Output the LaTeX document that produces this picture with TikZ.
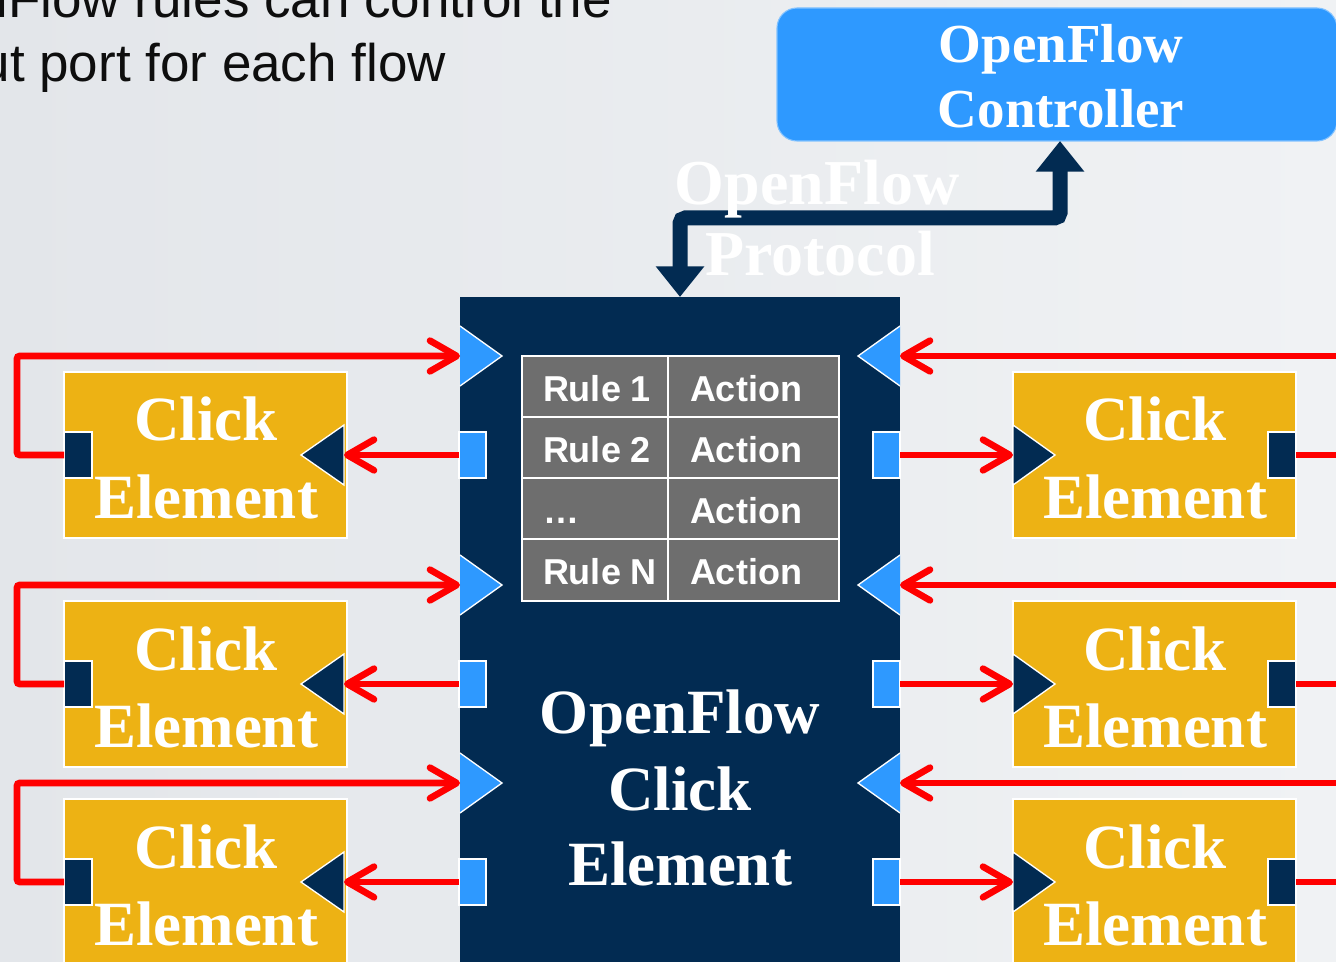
\documentclass[tikz,border=0pt]{standalone}
\usepackage{fontspec}
\setmainfont{Liberation Serif}
\newfontfamily\headsans{Liberation Sans}
\usetikzlibrary{arrows.meta}

\definecolor{navy}{HTML}{022B52}
\definecolor{portblue}{HTML}{2E99FF}
\definecolor{gold}{HTML}{EDB214}
\definecolor{cellgray}{HTML}{6E6E6E}
\definecolor{flowred}{HTML}{FF0000}
\definecolor{inktext}{HTML}{0E0E0E}
\definecolor{bgleft}{HTML}{E3E6EA}
\definecolor{bgmid}{HTML}{F6F7F9}
\definecolor{bgright}{HTML}{F0F2F4}

\begin{document}
\begin{tikzpicture}[
  x=0.75pt, y=-0.75pt,
  every node/.append style={outer sep=0pt},
  headline/.style={text=inktext, font=\headsans\fontsize{39.75}{46}\selectfont, anchor=base east, inner sep=0pt},
  ctrlbox/.style={fill=portblue, draw=portblue!60!white, line width=0.8pt, rounded corners=15pt,
                  minimum width=420pt, minimum height=99.75pt, inner sep=0pt},
  ctrltext/.style={text=white, font=\fontsize{41.25}{48}\selectfont\bfseries, anchor=base, inner sep=0pt},
  prototext/.style={text=white, font=\fontsize{48}{56}\selectfont\bfseries, anchor=base, inner sep=0pt},
  ofbox/.style={fill=navy, minimum width=330pt, minimum height=510pt, inner sep=0pt},
  bigserif/.style={text=white, font=\fontsize{47.25}{56}\selectfont\bfseries, anchor=base, inner sep=0pt},
  cell/.style={draw=white, line width=1.5pt, fill=cellgray, minimum height=45.75pt, inner sep=0pt},
  celltext/.style={text=white, font=\headsans\fontsize{27}{32}\selectfont\bfseries, anchor=base west, inner sep=0pt},
  clickbox/.style={draw=white, line width=1.5pt, fill=gold, minimum width=212.25pt, minimum height=124.5pt, inner sep=0pt},
  ofport/.style={draw=white, line width=1pt, fill=portblue, minimum width=20.25pt, minimum height=34.5pt, inner sep=0pt},
  ceport/.style={draw=white, line width=1pt, fill=navy, minimum width=21pt, minimum height=34.5pt, inner sep=0pt},
  inwedge/.style={fill=portblue},
  wedgeedge/.style={draw=white, line width=1pt},
  cewedge/.style={fill=navy, draw=white, line width=1pt},
  flow/.style={draw=flowred, line width=5pt, rounded corners=2pt},
  flowarrow/.style={flow, -{Straight Barb[length=20pt, width=23pt, round]}},
  ofproto/.style={draw=navy, line width=11.25pt, rounded corners=4pt,
                  {Triangle[length=23pt, width=35pt]}-{Triangle[length=23pt, width=35pt]}}
]
\useasboundingbox (0,0) rectangle (1336,962);
\clip (0,0) rectangle (1336,962);
\shade[left color=bgleft, middle color=bgmid, right color=bgright] (0,0) rectangle (1336,962);

% heading text
\node[headline] (head1) at (612,18) {nFlow rules can control the};
\node[headline] (head2) at (446,82) {ut port for each flow};

% controller
\node[ctrlbox] (ctrl) at (1057,74.5) {};
\node[ctrltext] (ctrl1) at (1061,63) {OpenFlow};
\node[ctrltext] (ctrl2) at (1061,128) {Controller};

% OpenFlow Click element body
\node[ofbox] (ofc) at (680,637) {};

% control channel between controller and element
\draw[ofproto] ([xshift=2.25pt]ctrl.south) -- ++(0,77) -| (ofc.north);
\node[prototext] (proto1) at (817,205) {OpenFlow};
\node[prototext] (proto2) at (820,276) {Protocol};

% flow table
\foreach \r/\y/\rl in {1/386.5/Rule 1, 2/447.5/Rule 2, 3/508.5/…, 4/570/Rule N} {
  \node[cell, minimum width=109.5pt] (rule\r) at (595,\y) {};
  \node[cell, minimum width=128.25pt] (act\r) at (753.5,\y) {};
  \node[celltext] (ruletxt\r) at (543,\y+15) {\rl};
  \node[celltext] (acttxt\r) at (690,\y+15) {Action};
}

% label of the element body
\node[bigserif] (oftxt1) at (680,733) {OpenFlow};
\node[bigserif] (oftxt2) at (680,810) {Click};
\node[bigserif] (oftxt3) at (680,885) {Element};

% ports, neighbouring Click elements and packet paths
\foreach \i/\ya/\yt in {1/455/356, 2/684/585, 3/882/783} {
  % input wedges of the OpenFlow element
  \fill[inwedge] (460,\yt-30) -- (502,\yt) -- (460,\yt+30) -- cycle;
  \draw[wedgeedge] (460,\yt-30) -- (502,\yt) -- (460,\yt+30);
  \coordinate (ofinL\i) at (460,\yt);
  \fill[inwedge] (900,\yt-30) -- (858,\yt) -- (900,\yt+30) -- cycle;
  \draw[wedgeedge] (900,\yt-30) -- (858,\yt) -- (900,\yt+30);
  \coordinate (ofinR\i) at (900,\yt);
  % output ports of the OpenFlow element
  \node[ofport] (ofoutL\i) at (472.5,\ya) {};
  \node[ofport] (ofoutR\i) at (886.5,\ya) {};

  % Click element on the left
  \node[clickbox] (lce\i) at (205.5,\ya) {};
  \node[bigserif] (lcetop\i) at (206,\ya-14) {Click};
  \node[bigserif] (lcebot\i) at (206,\ya+63) {Element};
  \filldraw[cewedge] (344,\ya-30) -- (301,\ya) -- (344,\ya+30) -- cycle;
  \coordinate (lcein\i) at (344,\ya);
  \node[ceport] (lceout\i) at (78,\ya) {};

  % Click element on the right
  \node[clickbox] (rce\i) at (1154.5,\ya) {};
  \node[bigserif] (rcetop\i) at (1155,\ya-14) {Click};
  \node[bigserif] (rcebot\i) at (1155,\ya+63) {Element};
  \filldraw[cewedge] (1013,\ya-30) -- (1055,\ya) -- (1013,\ya+30) -- cycle;
  \coordinate (rcein\i) at (1013,\ya);
  \node[ceport] (rceout\i) at (1282,\ya) {};
  \coordinate (rfeed\i) at (1350,\yt);
  \coordinate (rnext\i) at (1350,\ya);

  % packet paths
  \draw[flowarrow] (lceout\i.west) -- ++(-47,0) |- (ofinL\i);
  \draw[flowarrow] (ofoutL\i.west) -- (lcein\i);
  \draw[flowarrow] (rfeed\i) -- (ofinR\i);
  \draw[flowarrow] (ofoutR\i.east) -- (rcein\i);
  \draw[flow] (rceout\i.east) -- (rnext\i);
}
\end{tikzpicture}
\end{document}
